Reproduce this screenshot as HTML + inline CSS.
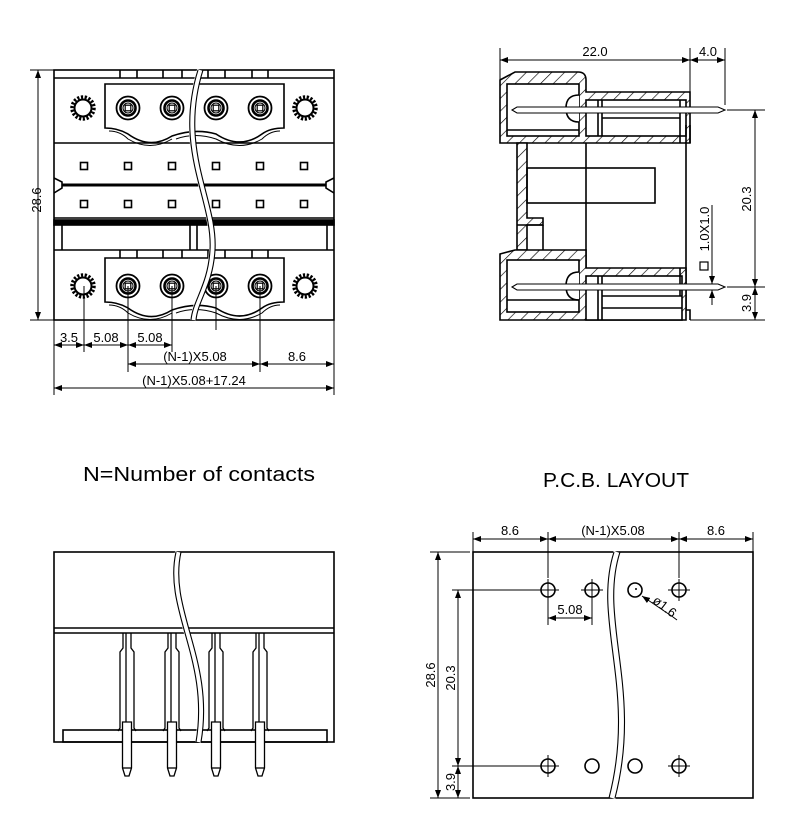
<!DOCTYPE html>
<html><head><meta charset="utf-8"><style>
html,body{margin:0;padding:0;background:#fff}
svg{display:block}
text{font-family:"Liberation Sans",sans-serif;fill:#000}
</style></head><body>
<svg width="800" height="840" viewBox="0 0 800 840" xmlns="http://www.w3.org/2000/svg">
<defs>
<pattern id="h" width="9" height="9" patternUnits="userSpaceOnUse" patternTransform="rotate(45)">
<rect width="9" height="9" fill="#fff"/><line x1="0" y1="0" x2="0" y2="9" stroke="#000" stroke-width="1.3"/></pattern>
<marker id="a" markerWidth="8" markerHeight="6" refX="8" refY="3" orient="auto-start-reverse" markerUnits="userSpaceOnUse"><path d="M0,0 L8,3 L0,6z" fill="#000"/></marker>
<g id="scr"><circle r="11" fill="none" stroke="#000" stroke-width="3.5" stroke-dasharray="2.2 1.6"/><circle r="8.5" fill="#fff" stroke="#000" stroke-width="2"/></g>
<g id="term"><circle r="11.5" fill="#fff" stroke="#000" stroke-width="1.8"/><circle r="7.5" fill="none" stroke="#000" stroke-width="2.6"/><circle r="5" fill="none" stroke="#000" stroke-width="1"/><rect x="-2.8" y="-2.8" width="5.6" height="5.6" fill="none" stroke="#000" stroke-width="1.2"/></g>
<g id="sq"><rect x="-3.5" y="-3.5" width="7" height="7" fill="none" stroke="#000" stroke-width="1.6"/></g>
<g id="hole"><circle r="7" fill="#fff" stroke="#000" stroke-width="1.6"/></g>
<g id="holex"><circle r="7" fill="#fff" stroke="#000" stroke-width="1.6"/><line x1="-11" y1="0" x2="11" y2="0" stroke="#000" stroke-width="1"/><line x1="0" y1="-11" x2="0" y2="11" stroke="#000" stroke-width="1"/></g>
<g id="pin" stroke="#000" stroke-width="1.3"><path d="M-4,633 V648 L-7,652 V728 L-9,731 M4,633 V648 L7,652 V728 L9,731" fill="none"/><line x1="-1" y1="633" x2="-1" y2="728"/>
<path d="M-4.5,722 H4.5 V768 L2,776 H-2 L-4.5,768 Z" fill="#fff"/><line x1="-4.5" y1="768" x2="4.5" y2="768"/></g>
</defs>

<g stroke="#000" fill="none" stroke-width="1.6">
<rect x="54" y="70" width="280" height="250"/>
<line x1="54" y1="78" x2="334" y2="78"/>
<path d="M120,78 V70 M137,78 V70 M163,78 V70 M182,78 V70 M208,78 V70 M225,78 V70 M252,78 V70 M268,78 V70"/>
<path d="M105,84 H284 V128 Q270,128 262,134 Q240,150 216,134 Q195,128 172,136 Q150,150 128,134 Q118,128 105,128 Z" fill="#fff"/>
<path d="M109,131 Q120,131 128,139 Q150,152 172,139 M176,139 Q195,132 216,139 Q240,152 262,139 Q270,131 280,131" stroke-width="1"/>
<line x1="54" y1="143" x2="334" y2="143"/>
<line x1="62" y1="185" x2="326" y2="185" stroke-width="3"/>
<path d="M54,178 L62,182 V188 L54,193 M334,178 L326,182 V188 L334,193"/>
<line x1="54" y1="218" x2="334" y2="218"/>
<rect x="54" y="220" width="280" height="5" fill="#000"/>
<line x1="62" y1="225" x2="62" y2="250"/><line x1="327" y1="225" x2="327" y2="250"/>
<line x1="190" y1="225" x2="190" y2="250"/><line x1="197" y1="225" x2="197" y2="250"/>
<line x1="54" y1="250" x2="334" y2="250"/>
<path d="M120,250 V258 M137,250 V258 M163,250 V258 M182,250 V258 M208,250 V258 M225,250 V258 M252,250 V258 M268,250 V258"/>
<path d="M105,258 H284 V302 Q270,302 262,308 Q240,324 216,308 Q195,302 172,310 Q150,324 128,308 Q118,302 105,302 Z" fill="#fff"/>
<path d="M109,305 Q120,305 128,313 Q150,326 172,313 M176,313 Q195,306 216,313 Q240,326 262,313 Q270,305 280,305" stroke-width="1"/>
</g>
<use href="#scr" x="83" y="108"/><use href="#scr" x="305" y="108"/>
<use href="#scr" x="83" y="286"/><use href="#scr" x="305" y="286"/>
<use href="#term" x="128" y="108"/><use href="#term" x="172" y="108"/><use href="#term" x="216" y="108"/><use href="#term" x="260" y="108"/>
<use href="#term" x="128" y="286"/><use href="#term" x="172" y="286"/><use href="#term" x="216" y="286"/><use href="#term" x="260" y="286"/>
<use href="#sq" x="84" y="166"/><use href="#sq" x="128" y="166"/><use href="#sq" x="172" y="166"/><use href="#sq" x="216" y="166"/><use href="#sq" x="260" y="166"/><use href="#sq" x="304" y="166"/>
<use href="#sq" x="84" y="204"/><use href="#sq" x="128" y="204"/><use href="#sq" x="172" y="204"/><use href="#sq" x="216" y="204"/><use href="#sq" x="260" y="204"/><use href="#sq" x="304" y="204"/>
<path d="M200,70 C175,150 215,200 212,250 C210,285 195,300 193,320" stroke="#fff" stroke-width="6" fill="none"/>
<path d="M198,70 C173,150 213,200 210,250 C208,285 193,300 191,320 M203,70 C178,150 218,200 215,250 C213,285 198,300 196,320" stroke="#000" stroke-width="1.1" fill="none"/>
<g stroke="#000" stroke-width="1" fill="none">
<line x1="38" y1="70" x2="38" y2="320" marker-start="url(#a)" marker-end="url(#a)"/>
<line x1="30" y1="70" x2="54" y2="70"/><line x1="30" y1="320" x2="54" y2="320"/>
<path d="M54,320 V395 M84,286 V352 M128,286 V372 M172,286 V352 M216,286 V330 M260,286 V372 M334,320 V395"/>
<line x1="54" y1="345" x2="84" y2="345" marker-start="url(#a)" marker-end="url(#a)"/>
<line x1="84" y1="345" x2="128" y2="345" marker-start="url(#a)" marker-end="url(#a)"/>
<line x1="128" y1="345" x2="172" y2="345" marker-start="url(#a)" marker-end="url(#a)"/>
<line x1="128" y1="364" x2="260" y2="364" marker-start="url(#a)" marker-end="url(#a)"/>
<line x1="260" y1="364" x2="334" y2="364" marker-start="url(#a)" marker-end="url(#a)"/>
<line x1="54" y1="388" x2="334" y2="388" marker-start="url(#a)" marker-end="url(#a)"/>
</g>
<g font-size="13">
<text x="36" y="205" transform="rotate(-90 36 200)" text-anchor="middle">28.6</text>
<text x="69" y="342" text-anchor="middle">3.5</text>
<text x="106" y="342" text-anchor="middle">5.08</text>
<text x="150" y="342" text-anchor="middle">5.08</text>
<text x="195" y="361" text-anchor="middle">(N-1)X5.08</text>
<text x="297" y="361" text-anchor="middle">8.6</text>
<text x="194" y="385" text-anchor="middle">(N-1)X5.08+17.24</text>
</g>

<g stroke="#000" stroke-width="1.6">
<path d="M500,80 L515,72 H578 Q586,72 586,80 V92 H690 V143 H500 Z" fill="url(#h)"/>
<rect x="507" y="84" width="72" height="52" fill="#fff"/>
<rect x="586" y="100" width="100" height="36" fill="#fff"/>
<path d="M579,95 Q566,95 566,108 Q566,122 579,122" fill="#fff"/>
<line x1="507" y1="130" x2="579" y2="130"/>
<line x1="598" y1="100" x2="598" y2="136"/><line x1="602" y1="100" x2="602" y2="136"/>
<line x1="602" y1="118" x2="680" y2="118"/>
<line x1="680" y1="100" x2="680" y2="143"/>
<path d="M512,110 L517,107 H718 L725,110 L718,113 H517 Z" fill="#fff" stroke-width="1.1"/>
<path d="M517,143 H527 V218 H543 V225 H527 V250 H517 Z" fill="url(#h)"/>
<line x1="517" y1="225" x2="543" y2="225"/><line x1="543" y1="225" x2="543" y2="250"/>
<line x1="586" y1="143" x2="586" y2="270" fill="none"/>
<rect x="527" y="168" width="128" height="35" fill="none"/>
<path d="M690,143 V125 M686,125 V310 H690 V320" fill="none"/>
<path d="M500,254 L515,250 H586 V268 H686 V320 H500 Z" fill="url(#h)"/>
<rect x="507" y="260" width="72" height="52" fill="#fff"/>
<rect x="586" y="276" width="96" height="44" fill="#fff"/>
<path d="M579,272 Q566,272 566,286 Q566,300 579,300" fill="#fff"/>
<line x1="507" y1="300" x2="579" y2="300"/>
<line x1="598" y1="276" x2="598" y2="320"/><line x1="602" y1="276" x2="602" y2="320"/>
<line x1="602" y1="296" x2="682" y2="296"/><line x1="602" y1="308" x2="682" y2="308"/>
<line x1="680" y1="268" x2="680" y2="296"/>
<path d="M512,287 L517,284 H718 L725,287 L718,290 H517 Z" fill="#fff" stroke-width="1.1"/>
</g>
<g stroke="#000" stroke-width="1" fill="none">
<path d="M500,48 V80 M690,48 V92 M725,48 V105"/>
<line x1="500" y1="60" x2="690" y2="60" marker-start="url(#a)" marker-end="url(#a)"/>
<line x1="690" y1="60" x2="725" y2="60" marker-start="url(#a)" marker-end="url(#a)"/>
<path d="M727,110 H765 M727,287 H765 M690,320 H765"/>
<line x1="755" y1="110" x2="755" y2="287" marker-start="url(#a)" marker-end="url(#a)"/>
<line x1="755" y1="287" x2="755" y2="320" marker-start="url(#a)" marker-end="url(#a)"/>
<line x1="712" y1="205" x2="712" y2="284" marker-end="url(#a)"/>
<line x1="712" y1="305" x2="712" y2="290" marker-end="url(#a)"/>
<rect x="700" y="262" width="8" height="8" stroke-width="1.2"/>
</g>
<g font-size="13">
<text x="595" y="56" text-anchor="middle">22.0</text>
<text x="708" y="56" text-anchor="middle">4.0</text>
<text x="751" y="199" transform="rotate(-90 751 199)" text-anchor="middle">20.3</text>
<text x="751" y="303" transform="rotate(-90 751 303)" text-anchor="middle">3.9</text>
<text x="709" y="229" transform="rotate(-90 709 229)" text-anchor="middle">1.0X1.0</text>
</g>

<text x="83" y="481" font-size="20" textLength="232" lengthAdjust="spacingAndGlyphs">N=Number of contacts</text>
<text x="543" y="487" font-size="20" textLength="146" lengthAdjust="spacingAndGlyphs">P.C.B. LAYOUT</text>

<g stroke="#000" stroke-width="1.6" fill="none">
<rect x="54" y="552" width="280" height="190"/>
<line x1="54" y1="628" x2="334" y2="628"/><line x1="54" y1="633" x2="334" y2="633"/>
<rect x="63" y="730" width="264" height="12"/>
</g>
<use href="#pin" x="127"/><use href="#pin" x="172"/><use href="#pin" x="216"/><use href="#pin" x="260"/>
<path d="M178,552 C165,610 212,660 198,742" stroke="#fff" stroke-width="6" fill="none"/>
<path d="M176,552 C163,610 210,660 196,742 M181,552 C168,610 215,660 201,742" stroke="#000" stroke-width="1.1" fill="none"/>

<rect x="473" y="552" width="280" height="246" stroke="#000" stroke-width="1.6" fill="none"/>
<path d="M617,552 C595,620 640,690 612,798" stroke="#fff" stroke-width="7" fill="none"/>
<path d="M614,552 C592,620 637,690 609,798 M620,552 C598,620 643,690 615,798" stroke="#000" stroke-width="1.1" fill="none"/>
<use href="#holex" x="548" y="590"/><use href="#holex" x="592" y="590"/><use href="#hole" x="635" y="590"/><use href="#holex" x="679" y="590"/>
<use href="#holex" x="548" y="766"/><use href="#hole" x="592" y="766"/><use href="#hole" x="635" y="766"/><use href="#holex" x="679" y="766"/>
<circle cx="636" cy="589" r="1" fill="#000"/>
<g stroke="#000" stroke-width="1" fill="none">
<path d="M473,532 V552 M548,532 V578 M679,532 V578 M753,532 V552"/>
<line x1="473" y1="539" x2="548" y2="539" marker-start="url(#a)" marker-end="url(#a)"/>
<line x1="548" y1="539" x2="679" y2="539" marker-start="url(#a)" marker-end="url(#a)"/>
<line x1="679" y1="539" x2="753" y2="539" marker-start="url(#a)" marker-end="url(#a)"/>
<path d="M548,600 V625 M592,600 V625"/>
<line x1="548" y1="618" x2="592" y2="618" marker-start="url(#a)" marker-end="url(#a)"/>
<line x1="673" y1="617" x2="642" y2="596" marker-end="url(#a)"/>
<line x1="673" y1="617" x2="677" y2="620"/>
<path d="M430,552 H470 M452,590 H537 M452,766 H537 M430,798 H470"/>
<line x1="438" y1="552" x2="438" y2="798" marker-start="url(#a)" marker-end="url(#a)"/>
<line x1="458" y1="590" x2="458" y2="766" marker-start="url(#a)" marker-end="url(#a)"/>
<line x1="458" y1="766" x2="458" y2="798" marker-start="url(#a)" marker-end="url(#a)"/>
</g>
<g font-size="13">
<text x="510" y="535" text-anchor="middle">8.6</text>
<text x="613" y="535" text-anchor="middle">(N-1)X5.08</text>
<text x="716" y="535" text-anchor="middle">8.6</text>
<text x="570" y="614" text-anchor="middle">5.08</text>
<text x="662" y="610" transform="rotate(38 662 610)" text-anchor="middle">ø1.6</text>
<text x="435" y="675" transform="rotate(-90 435 675)" text-anchor="middle">28.6</text>
<text x="455" y="678" transform="rotate(-90 455 678)" text-anchor="middle">20.3</text>
<text x="455" y="782" transform="rotate(-90 455 782)" text-anchor="middle">3.9</text>
</g>
</svg>
</body></html>
